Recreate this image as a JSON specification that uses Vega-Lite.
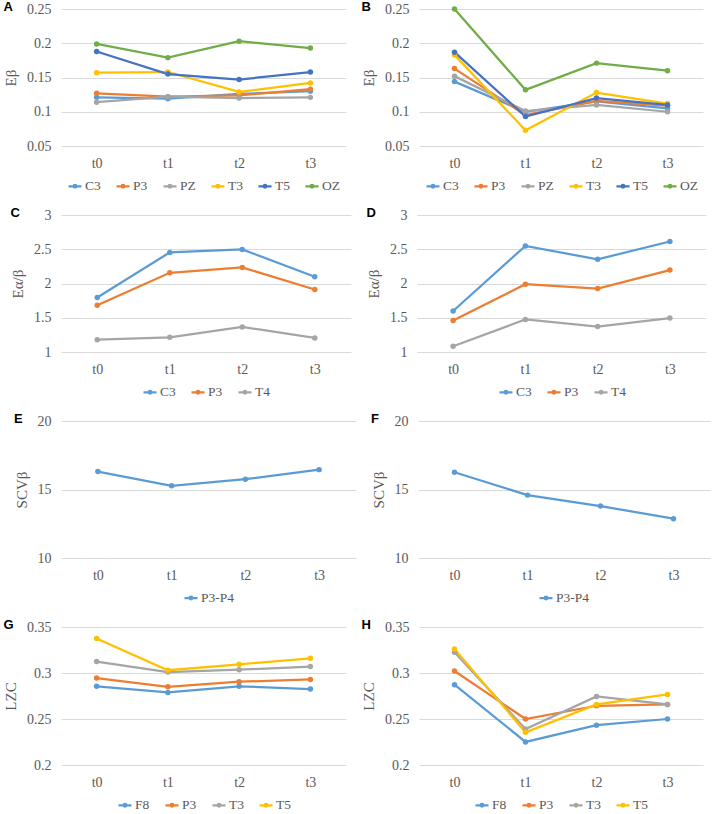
{
  "$schema": "https://vega.github.io/schema/vega-lite/v6.json",
  "background": "white",
  "padding": {"left": 3, "top": 1, "right": 3, "bottom": 0},
  "spacing": 14,
  "vconcat": [
    {
      "spacing": 15,
      "hconcat": [
        {
          "width": 285, "height": 137,
          "title": {"text": "A"},
          "data": {"values": [
            {"t": "t0", "s": "C3", "v": 0.121}, {"t": "t1", "s": "C3", "v": 0.119}, {"t": "t2", "s": "C3", "v": 0.126}, {"t": "t3", "s": "C3", "v": 0.130},
            {"t": "t0", "s": "P3", "v": 0.127}, {"t": "t1", "s": "P3", "v": 0.122}, {"t": "t2", "s": "P3", "v": 0.124}, {"t": "t3", "s": "P3", "v": 0.133},
            {"t": "t0", "s": "PZ", "v": 0.114}, {"t": "t1", "s": "PZ", "v": 0.122}, {"t": "t2", "s": "PZ", "v": 0.120}, {"t": "t3", "s": "PZ", "v": 0.121},
            {"t": "t0", "s": "T3", "v": 0.157}, {"t": "t1", "s": "T3", "v": 0.158}, {"t": "t2", "s": "T3", "v": 0.129}, {"t": "t3", "s": "T3", "v": 0.142},
            {"t": "t0", "s": "T5", "v": 0.188}, {"t": "t1", "s": "T5", "v": 0.155}, {"t": "t2", "s": "T5", "v": 0.147}, {"t": "t3", "s": "T5", "v": 0.158},
            {"t": "t0", "s": "OZ", "v": 0.199}, {"t": "t1", "s": "OZ", "v": 0.179}, {"t": "t2", "s": "OZ", "v": 0.203}, {"t": "t3", "s": "OZ", "v": 0.193}
          ]},
          "mark": {"type": "line", "strokeWidth": 2.25, "point": {"filled": true, "size": 30}},
          "encoding": {
            "x": {"field": "t", "type": "ordinal", "scale": {"type": "point", "padding": 0.5}, "axis": {"title": null}},
            "y": {"field": "v", "type": "quantitative", "scale": {"domain": [0.05, 0.25], "nice": false, "zero": false}, "axis": {"title": "Eβ", "values": [0.05, 0.1, 0.15, 0.2, 0.25], "format": ".2~f"}},
            "color": {"field": "s", "type": "nominal", "sort": null, "scale": {"domain": ["C3", "P3", "PZ", "T3", "T5", "OZ"], "range": ["#5B9BD5", "#ED7D31", "#A5A5A5", "#FFC000", "#4472C4", "#70AD47"]}, "legend": {"title": null}}
          }
        },
        {
          "width": 284, "height": 137,
          "title": {"text": "B"},
          "data": {"values": [
            {"t": "t0", "s": "C3", "v": 0.144}, {"t": "t1", "s": "C3", "v": 0.100}, {"t": "t2", "s": "C3", "v": 0.115}, {"t": "t3", "s": "C3", "v": 0.105},
            {"t": "t0", "s": "P3", "v": 0.163}, {"t": "t1", "s": "P3", "v": 0.095}, {"t": "t2", "s": "P3", "v": 0.116}, {"t": "t3", "s": "P3", "v": 0.109},
            {"t": "t0", "s": "PZ", "v": 0.152}, {"t": "t1", "s": "PZ", "v": 0.101}, {"t": "t2", "s": "PZ", "v": 0.110}, {"t": "t3", "s": "PZ", "v": 0.100},
            {"t": "t0", "s": "T3", "v": 0.183}, {"t": "t1", "s": "T3", "v": 0.073}, {"t": "t2", "s": "T3", "v": 0.128}, {"t": "t3", "s": "T3", "v": 0.112},
            {"t": "t0", "s": "T5", "v": 0.187}, {"t": "t1", "s": "T5", "v": 0.093}, {"t": "t2", "s": "T5", "v": 0.120}, {"t": "t3", "s": "T5", "v": 0.110},
            {"t": "t0", "s": "OZ", "v": 0.250}, {"t": "t1", "s": "OZ", "v": 0.132}, {"t": "t2", "s": "OZ", "v": 0.171}, {"t": "t3", "s": "OZ", "v": 0.160}
          ]},
          "mark": {"type": "line", "strokeWidth": 2.25, "point": {"filled": true, "size": 30}},
          "encoding": {
            "x": {"field": "t", "type": "ordinal", "scale": {"type": "point", "padding": 0.5}, "axis": {"title": null}},
            "y": {"field": "v", "type": "quantitative", "scale": {"domain": [0.05, 0.25], "nice": false, "zero": false}, "axis": {"title": "Eβ", "values": [0.05, 0.1, 0.15, 0.2, 0.25], "format": ".2~f"}},
            "color": {"field": "s", "type": "nominal", "sort": null, "scale": {"domain": ["C3", "P3", "PZ", "T3", "T5", "OZ"], "range": ["#5B9BD5", "#ED7D31", "#A5A5A5", "#FFC000", "#4472C4", "#70AD47"]}, "legend": {"title": null}}
          }
        }
      ],
      "resolve": {"scale": {"color": "independent"}, "legend": {"color": "independent"}}
    },
    {
      "spacing": 15,
      "hconcat": [
        {
          "width": 290, "height": 137,
          "title": {"text": "C"},
          "data": {"values": [
            {"t": "t0", "s": "C3", "v": 1.795}, {"t": "t1", "s": "C3", "v": 2.454}, {"t": "t2", "s": "C3", "v": 2.498}, {"t": "t3", "s": "C3", "v": 2.098},
            {"t": "t0", "s": "P3", "v": 1.683}, {"t": "t1", "s": "P3", "v": 2.156}, {"t": "t2", "s": "P3", "v": 2.234}, {"t": "t3", "s": "P3", "v": 1.912},
            {"t": "t0", "s": "T4", "v": 1.18}, {"t": "t1", "s": "T4", "v": 1.215}, {"t": "t2", "s": "T4", "v": 1.366}, {"t": "t3", "s": "T4", "v": 1.205}
          ]},
          "mark": {"type": "line", "strokeWidth": 2.25, "point": {"filled": true, "size": 30}},
          "encoding": {
            "x": {"field": "t", "type": "ordinal", "scale": {"type": "point", "padding": 0.5}, "axis": {"title": null}},
            "y": {"field": "v", "type": "quantitative", "scale": {"domain": [1, 3], "nice": false, "zero": false}, "axis": {"title": "Eα/β", "values": [1, 1.5, 2, 2.5, 3], "format": ".1~f"}},
            "color": {"field": "s", "type": "nominal", "sort": null, "scale": {"domain": ["C3", "P3", "T4"], "range": ["#5B9BD5", "#ED7D31", "#A5A5A5"]}, "legend": {"title": null}}
          }
        },
        {
          "width": 289, "height": 137,
          "title": {"text": "D"},
          "data": {"values": [
            {"t": "t0", "s": "C3", "v": 1.598}, {"t": "t1", "s": "C3", "v": 2.549}, {"t": "t2", "s": "C3", "v": 2.353}, {"t": "t3", "s": "C3", "v": 2.613},
            {"t": "t0", "s": "P3", "v": 1.461}, {"t": "t1", "s": "P3", "v": 1.99}, {"t": "t2", "s": "P3", "v": 1.926}, {"t": "t3", "s": "P3", "v": 2.196},
            {"t": "t0", "s": "T4", "v": 1.083}, {"t": "t1", "s": "T4", "v": 1.475}, {"t": "t2", "s": "T4", "v": 1.372}, {"t": "t3", "s": "T4", "v": 1.495}
          ]},
          "mark": {"type": "line", "strokeWidth": 2.25, "point": {"filled": true, "size": 30}},
          "encoding": {
            "x": {"field": "t", "type": "ordinal", "scale": {"type": "point", "padding": 0.5}, "axis": {"title": null}},
            "y": {"field": "v", "type": "quantitative", "scale": {"domain": [1, 3], "nice": false, "zero": false}, "axis": {"title": "Eα/β", "values": [1, 1.5, 2, 2.5, 3], "format": ".1~f"}},
            "color": {"field": "s", "type": "nominal", "sort": null, "scale": {"domain": ["C3", "P3", "T4"], "range": ["#5B9BD5", "#ED7D31", "#A5A5A5"]}, "legend": {"title": null}}
          }
        }
      ],
      "resolve": {"scale": {"color": "independent"}, "legend": {"color": "independent"}}
    },
    {
      "spacing": 15,
      "hconcat": [
        {
          "width": 295, "height": 137,
          "title": {"text": "E"},
          "data": {"values": [
            {"t": "t0", "s": "P3-P4", "v": 16.31}, {"t": "t1", "s": "P3-P4", "v": 15.27}, {"t": "t2", "s": "P3-P4", "v": 15.75}, {"t": "t3", "s": "P3-P4", "v": 16.45}
          ]},
          "mark": {"type": "line", "strokeWidth": 2.25, "point": {"filled": true, "size": 30}},
          "encoding": {
            "x": {"field": "t", "type": "ordinal", "scale": {"type": "point", "padding": 0.5}, "axis": {"title": null}},
            "y": {"field": "v", "type": "quantitative", "scale": {"domain": [10, 20], "nice": false, "zero": false}, "axis": {"title": "SCVβ", "values": [10, 15, 20]}},
            "color": {"field": "s", "type": "nominal", "scale": {"domain": ["P3-P4"], "range": ["#5B9BD5"]}, "legend": {"title": null}}
          }
        },
        {
          "width": 292, "height": 137,
          "title": {"text": "F"},
          "data": {"values": [
            {"t": "t0", "s": "P3-P4", "v": 16.26}, {"t": "t1", "s": "P3-P4", "v": 14.59}, {"t": "t2", "s": "P3-P4", "v": 13.79}, {"t": "t3", "s": "P3-P4", "v": 12.87}
          ]},
          "mark": {"type": "line", "strokeWidth": 2.25, "point": {"filled": true, "size": 30}},
          "encoding": {
            "x": {"field": "t", "type": "ordinal", "scale": {"type": "point", "padding": 0.5}, "axis": {"title": null}},
            "y": {"field": "v", "type": "quantitative", "scale": {"domain": [10, 20], "nice": false, "zero": false}, "axis": {"title": "SCVβ", "values": [10, 15, 20]}},
            "color": {"field": "s", "type": "nominal", "scale": {"domain": ["P3-P4"], "range": ["#5B9BD5"]}, "legend": {"title": null}}
          }
        }
      ],
      "resolve": {"scale": {"color": "independent"}, "legend": {"color": "independent"}}
    },
    {
      "spacing": 15,
      "hconcat": [
        {
          "width": 285, "height": 138,
          "title": {"text": "G"},
          "data": {"values": [
            {"t": "t0", "s": "F8", "v": 0.2855}, {"t": "t1", "s": "F8", "v": 0.2789}, {"t": "t2", "s": "F8", "v": 0.2855}, {"t": "t3", "s": "F8", "v": 0.2825},
            {"t": "t0", "s": "P3", "v": 0.2945}, {"t": "t1", "s": "P3", "v": 0.285}, {"t": "t2", "s": "P3", "v": 0.2905}, {"t": "t3", "s": "P3", "v": 0.293},
            {"t": "t0", "s": "T3", "v": 0.3124}, {"t": "t1", "s": "T3", "v": 0.301}, {"t": "t2", "s": "T3", "v": 0.3036}, {"t": "t3", "s": "T3", "v": 0.307},
            {"t": "t0", "s": "T5", "v": 0.3375}, {"t": "t1", "s": "T5", "v": 0.303}, {"t": "t2", "s": "T5", "v": 0.3095}, {"t": "t3", "s": "T5", "v": 0.316}
          ]},
          "mark": {"type": "line", "strokeWidth": 2.25, "point": {"filled": true, "size": 30}},
          "encoding": {
            "x": {"field": "t", "type": "ordinal", "scale": {"type": "point", "padding": 0.5}, "axis": {"title": null}},
            "y": {"field": "v", "type": "quantitative", "scale": {"domain": [0.2, 0.35], "nice": false, "zero": false}, "axis": {"title": "LZC", "values": [0.2, 0.25, 0.3, 0.35], "format": ".2~f"}},
            "color": {"field": "s", "type": "nominal", "sort": null, "scale": {"domain": ["F8", "P3", "T3", "T5"], "range": ["#5B9BD5", "#ED7D31", "#A5A5A5", "#FFC000"]}, "legend": {"title": null}}
          }
        },
        {
          "width": 284, "height": 138,
          "title": {"text": "H"},
          "data": {"values": [
            {"t": "t0", "s": "F8", "v": 0.2873}, {"t": "t1", "s": "F8", "v": 0.2251}, {"t": "t2", "s": "F8", "v": 0.2433}, {"t": "t3", "s": "F8", "v": 0.25},
            {"t": "t0", "s": "P3", "v": 0.3022}, {"t": "t1", "s": "P3", "v": 0.25}, {"t": "t2", "s": "P3", "v": 0.2644}, {"t": "t3", "s": "P3", "v": 0.2658},
            {"t": "t0", "s": "T3", "v": 0.3225}, {"t": "t1", "s": "T3", "v": 0.2391}, {"t": "t2", "s": "T3", "v": 0.2745}, {"t": "t3", "s": "T3", "v": 0.2658},
            {"t": "t0", "s": "T5", "v": 0.3262}, {"t": "t1", "s": "T5", "v": 0.2355}, {"t": "t2", "s": "T5", "v": 0.2658}, {"t": "t3", "s": "T5", "v": 0.2767}
          ]},
          "mark": {"type": "line", "strokeWidth": 2.25, "point": {"filled": true, "size": 30}},
          "encoding": {
            "x": {"field": "t", "type": "ordinal", "scale": {"type": "point", "padding": 0.5}, "axis": {"title": null}},
            "y": {"field": "v", "type": "quantitative", "scale": {"domain": [0.2, 0.35], "nice": false, "zero": false}, "axis": {"title": "LZC", "values": [0.2, 0.25, 0.3, 0.35], "format": ".2~f"}},
            "color": {"field": "s", "type": "nominal", "sort": null, "scale": {"domain": ["F8", "P3", "T3", "T5"], "range": ["#5B9BD5", "#ED7D31", "#A5A5A5", "#FFC000"]}, "legend": {"title": null}}
          }
        }
      ],
      "resolve": {"scale": {"color": "independent"}, "legend": {"color": "independent"}}
    }
  ],
  "resolve": {"scale": {"color": "independent"}, "legend": {"color": "independent"}},
  "config": {
    "font": "Liberation Serif",
    "view": {"stroke": null},
    "title": {"anchor": "start", "frame": "bounds", "font": "Liberation Sans", "fontSize": 13, "fontWeight": "bold", "color": "#000000", "offset": 0, "dy": 16},
    "axis": {"labelFont": "Liberation Serif", "labelFontSize": 14, "labelColor": "#595959", "titleFont": "Liberation Serif", "titleFontSize": 15, "titleColor": "#595959", "titleFontWeight": "normal", "domain": false, "ticks": false, "gridColor": "#D9D9D9", "gridWidth": 1},
    "axisX": {"grid": false, "labelAngle": 0, "labelPadding": 10, "labelFont": "Liberation Serif"},
    "axisY": {"labelPadding": 10, "titlePadding": 8, "labelFont": "Liberation Serif"},
    "legend": {"orient": "bottom", "direction": "horizontal", "offset": 8, "labelFont": "Liberation Serif", "labelFontSize": 13.5, "labelColor": "#595959", "symbolType": "M-1,0H1M-0.2,0A0.2,0.2,0,1,0,0.2,0A0.2,0.2,0,1,0,-0.2,0", "symbolSize": 169, "symbolStrokeWidth": 2.25, "labelOffset": 2, "columnPadding": 11, "layout": {"bottom": {"anchor": "middle"}}}
  }
}
